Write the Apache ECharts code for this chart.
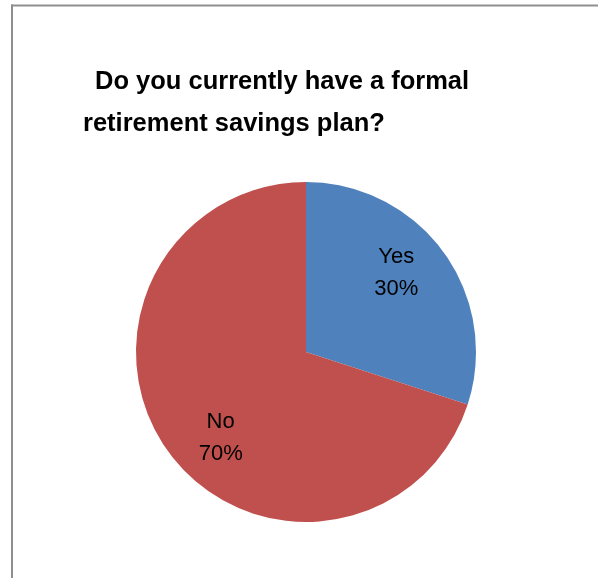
<!DOCTYPE html>
<html>
<head>
<meta charset="utf-8">
<script src="https://cdn.jsdelivr.net/npm/echarts@6/dist/echarts.min.js"></script>
<style>html,body{margin:0;padding:0;background:#fff}#c{width:598px;height:578px}</style>
</head>
<body>
<div id="c"></div>
<script>
var categories = ['Yes', 'No'];
var values = [30, 70];
var colors = ['#4F81BD', '#C0504D'];
var titleLines = ['Do you currently have a formal', 'retirement savings plan?'];

var chart = echarts.init(document.getElementById('c'), null, {renderer: 'canvas'});
var labelOffsets = [[-10, -6], [15, 13]];
chart.setOption({
  animation: false,
  backgroundColor: '#ffffff',
  graphic: [
    {type: 'line', shape: {x1: 11, y1: 5.5, x2: 598, y2: 5.5}, style: {stroke: '#8f8f8f', lineWidth: 2}},
    {type: 'line', shape: {x1: 12, y1: 4.5, x2: 12, y2: 578}, style: {stroke: '#8f8f8f', lineWidth: 2}},
    {type: 'text', x: 95, y: 95, style: {text: titleLines[0], font: 'bold 25.5px "Liberation Sans"', fill: '#000', verticalAlign: 'bottom'}},
    {type: 'text', x: 83, y: 137, style: {text: titleLines[1], font: 'bold 25.5px "Liberation Sans"', fill: '#000', verticalAlign: 'bottom'}}
  ],
  series: [
    {
      type: 'pie',
      center: [306, 352],
      radius: [0, 170],
      startAngle: 90,
      clockwise: true,
      silent: true,
      label: {show: false},
      labelLine: {show: false},
      itemStyle: {borderWidth: 0},
      data: categories.map(function (c, i) {
        return {name: c, value: values[i], itemStyle: {color: colors[i]}};
      })
    },
    {
      type: 'pie',
      center: [306, 352],
      radius: [70, 172],
      startAngle: 90,
      clockwise: true,
      silent: true,
      itemStyle: {color: 'rgba(0,0,0,0)', borderWidth: 0},
      label: {
        show: true,
        position: 'inside',
        formatter: function (p) { return p.name + '\n' + p.value + '%'; },
        fontFamily: 'Liberation Sans',
        fontSize: 22,
        lineHeight: 32,
        color: '#000'
      },
      labelLine: {show: false},
      data: categories.map(function (c, i) {
        return {name: c, value: values[i], label: {offset: labelOffsets[i]}};
      })
    }
  ]
});
</script>
</body>
</html>
